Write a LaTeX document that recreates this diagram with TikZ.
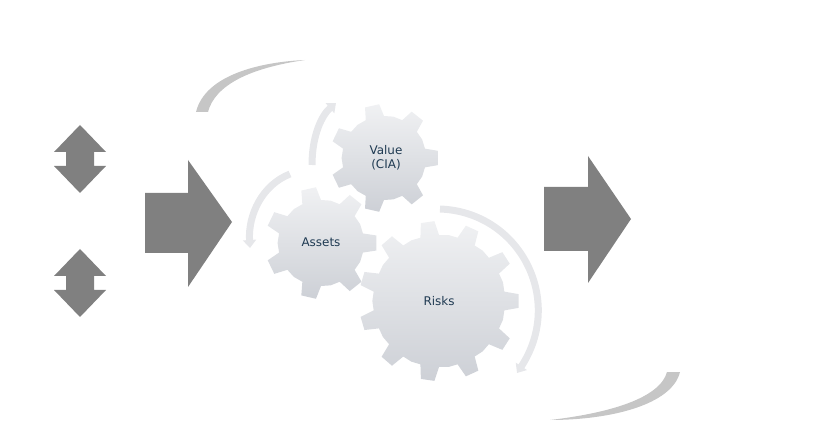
\documentclass[tikz,border=0pt]{standalone}
\usepackage{fontspec}
\setmainfont{DejaVu Sans}
\usetikzlibrary{arrows.meta}
\definecolor{blk}{HTML}{808080}
\definecolor{txt}{HTML}{1F3A52}
\definecolor{arc}{HTML}{E6E7EA}
\tikzset{
 blockarrow/.style={fill=blk},
 gear/.style={top color=gearTop, bottom color=gearBot, draw=none},
 cyc/.style={draw=arc, line width=7bp, -{Triangle[length=8bp,width=13bp]}},
 lbl/.style={text=txt, font=\fontsize{12}{14}\selectfont, align=center},
}
\definecolor{gearTop}{HTML}{F0F1F3}
\definecolor{gearBot}{HTML}{CDD0D6}
\newcommand{\mygear}[5]{% center x,y, rin, rout, n
 \pgfmathsetmacro{\w}{360/#5}
 \path[gear] ([shift={(#1,#2)}]{-0.25*\w}:#3)
 \foreach \i in {1,...,#5}{
  -- ([shift={(#1,#2)}]{\i*\w-\w-0.25*\w}:#3)
  -- ([shift={(#1,#2)}]{\i*\w-\w-0.15*\w}:#4)
  -- ([shift={(#1,#2)}]{\i*\w-\w+0.15*\w}:#4)
  -- ([shift={(#1,#2)}]{\i*\w-\w+0.25*\w}:#3)
  -- ([shift={(#1,#2)}]{\i*\w-\w+0.5*\w}:{#3*1.01})
 } -- cycle;
}
\begin{document}
\begin{tikzpicture}[x=1bp,y=-1bp]
\useasboundingbox (0,0) rectangle (814,433);
% swooshes
\fill[gray!45] (196,112) .. controls (205,75) and (260,62) .. (305,60)
  .. controls (250,68) and (215,85) .. (208,112) -- cycle;
\fill[gray!45] (680,372) .. controls (672,405) and (610,420) .. (550,420)
  .. controls (610,413) and (660,398) .. (667,372) -- cycle;
% double arrows
\foreach \y in {125,249}{
 \fill[blockarrow] (80,\y) -- (106,\y+27) -- (94,\y+27) -- (94,\y+41) -- (106,\y+41)
  -- (80,\y+68) -- (54,\y+41) -- (66,\y+41) -- (66,\y+27) -- (54,\y+27) -- cycle;
}
% block arrows
\fill[blockarrow] (145,193) -- (188,193) -- (188,160) -- (232,222) -- (188,287) -- (188,253) -- (145,253) -- cycle;
\fill[blockarrow] (544,187) -- (588,187) -- (588,156) -- (631,219) -- (588,283) -- (588,251) -- (544,251) -- cycle;
% cycle arrows
\draw[cyc] (312,165) .. controls (312,135) and (322,115) .. (336,103);
\draw[cyc] (290,174) .. controls (262,185) and (248,215) .. (250,248);
\draw[cyc] (440,209) .. controls (520,212) and (565,300) .. (517,373);
% gears
\mygear{384}{158}{42}{54}{7}
\mygear{321}{243}{43}{56}{7}
\mygear{439}{301}{66}{80}{11}
\node[lbl] (value) at (386,158) {Value\\(CIA)};
\node[lbl] (assets) at (321,242) {Assets};
\node[lbl] (risks) at (439,301) {Risks};
\end{tikzpicture}
\end{document}
